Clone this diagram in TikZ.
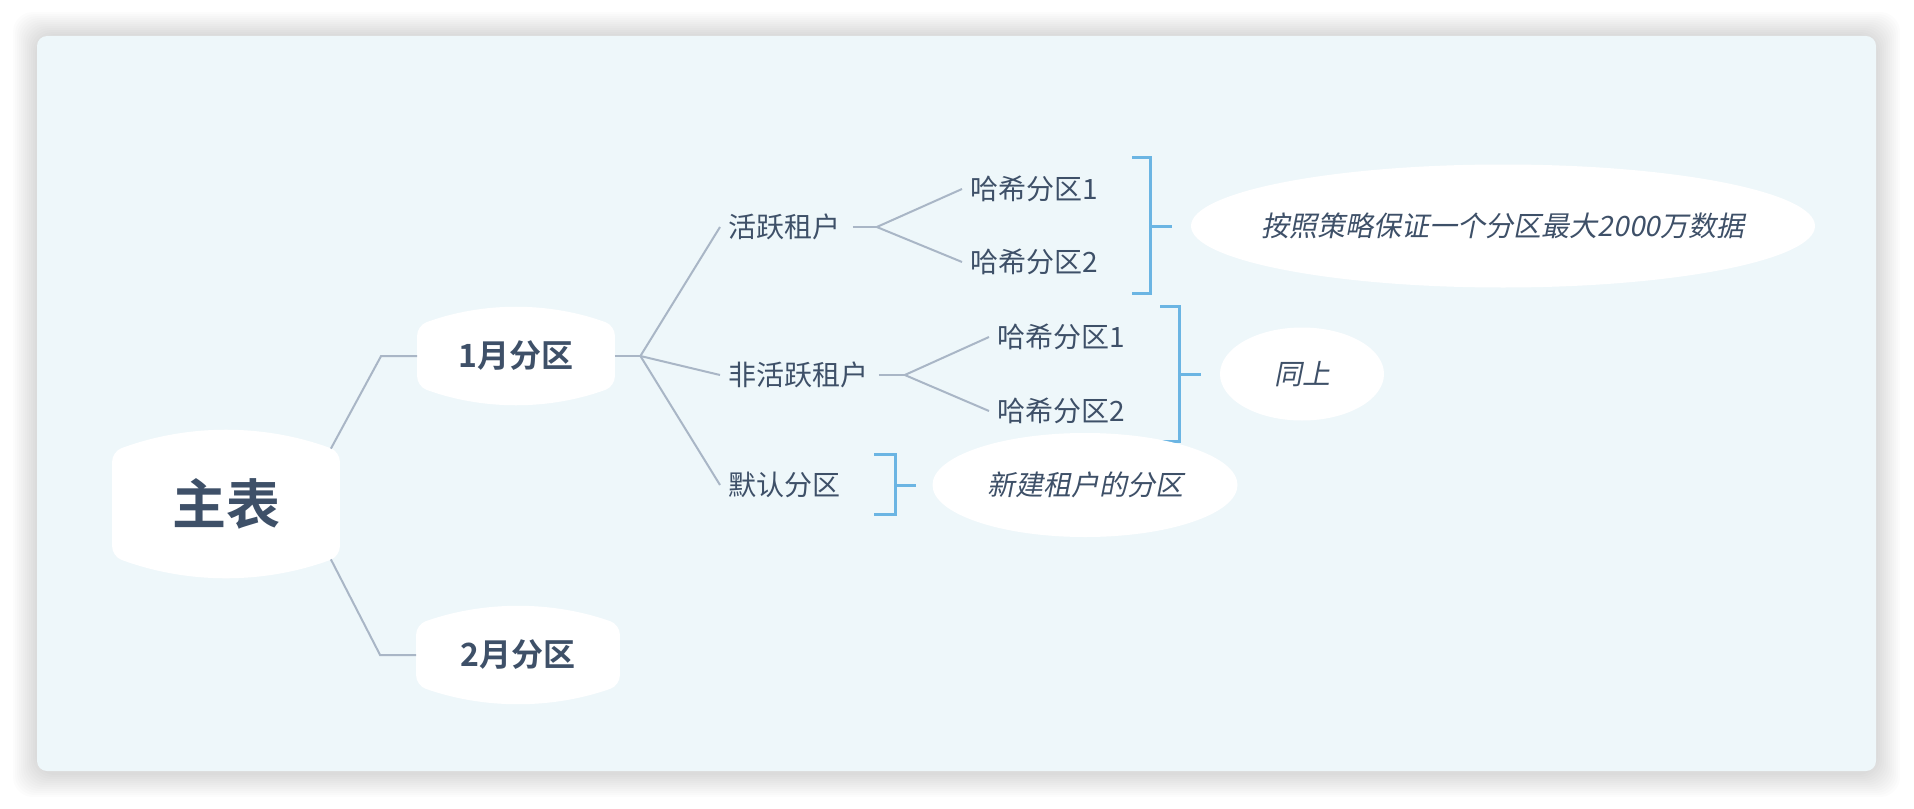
\documentclass[tikz,border=0pt]{standalone}
\usepackage{fontspec}
\setmainfont{Noto Sans CJK SC}[BoldFont={Noto Sans CJK SC Bold}]
\newfontfamily\slantfont{Noto Sans CJK SC}[FakeSlant=0.2]
\usetikzlibrary{shapes.geometric, positioning, calc, backgrounds}

\definecolor{ink}{HTML}{3E5068}
\definecolor{twigc}{HTML}{A9B6C6}
\definecolor{bracec}{HTML}{6BB5E3}
\definecolor{cardc}{HTML}{EEF7FA}

\pgfdeclarelayer{blobs}
\pgfsetlayers{background,blobs,main}

% white pad with bowed top and bottom edges behind a node
\newcommand\blob[2]{%
  \fill[white, rounded corners=5pt] (#1.north west) .. controls ($(#1.north west)!0.667!(#1.north)+(0pt,#2)$) and ($(#1.north east)!0.667!(#1.north)+(0pt,#2)$) .. (#1.north east)
    -- (#1.south east) .. controls ($(#1.south east)!0.667!(#1.south)-(0pt,#2)$) and ($(#1.south west)!0.667!(#1.south)-(0pt,#2)$) .. (#1.south west) -- cycle;}

\begin{document}
\begin{tikzpicture}[
    x=0.5pt, y=-0.5pt,
    every node/.style={text=ink, inner sep=4pt},
    root/.style={
        font=\bfseries\fontsize{27}{27}\selectfont,
        minimum width=113.5pt,
        minimum height=52pt
    },
    month/.style={
        font=\bfseries\fontsize{16}{16}\selectfont,
        minimum height=30pt
    },
    leaf/.style={
        font=\fontsize{14}{14}\selectfont,
        anchor=west
    },
    note/.style={
        ellipse,
        fill=white,
        inner sep=0pt,
        font=\slantfont\fontsize{14}{14}\selectfont
    },
    twig/.style={draw=twigc, line width=1pt},
    bracket/.style={draw=bracec, line width=1.5pt}
]

% --- card ---
\begin{scope}[on background layer]
\fill[white] (0,0) rectangle (1914,808);
\foreach \i in {1,...,12}
    \fill[black, opacity=0.012, rounded corners=10pt]
        (37-2*\i,36-2*\i) rectangle (1876+2*\i,773+2*\i);
\fill[cardc, rounded corners=5pt] (37,36) rectangle (1876,771);
\end{scope}

% --- root and months ---
\node (root) [root] at (226,504) {主表};
\node (m1) [month, minimum width=98.5pt] at (516,356) {1月分区};
\node (m2) [month, minimum width=101.5pt] at (518,655) {2月分区};

% --- tenants ---
\node (a1) [leaf] at (720,227) {活跃租户};
\node (a2) [leaf] at (720,375) {非活跃租户};
\node (a3) [leaf] at (720,485) {默认分区};

% --- hash partitions ---
\node (h1) [leaf] at (962,189) {哈希分区1};
\node (h2) [leaf] at (962,262) {哈希分区2};
\node (h3) [leaf] at (989,337) {哈希分区1};
\node (h4) [leaf] at (989,411) {哈希分区2};

% --- pads ---
\begin{pgfonlayer}{blobs}
\blob{root}{14pt}
\blob{m1}{12pt}
\blob{m2}{12pt}
\end{pgfonlayer}

% --- connectors ---
\coordinate (hub1) at ([xshift=12.75pt]m1.east);
\coordinate (hub2) at ([xshift=14pt]a1.east);
\coordinate (hub3) at ([xshift=14pt]a2.east);
\draw [twig] ([xshift=-4.5pt,yshift=1.5pt]root.north east) -- ([xshift=-18pt]m1.west) -- (m1.west);
\draw [twig] ([xshift=-4.5pt,yshift=-1.5pt]root.south east) -- ([xshift=-18pt]m2.west) -- (m2.west);
\draw [twig] (m1.east) -- (hub1);
\draw [twig] (hub1) -- (a1.west);
\draw [twig] (hub1) -- (a2.west);
\draw [twig] (hub1) -- (a3.west);
\draw [twig] ([xshift=2pt]a1.east) -- (hub2);
\draw [twig] (hub2) -- (h1.west);
\draw [twig] (hub2) -- (h2.west);
\draw [twig] ([xshift=1pt]a2.east) -- (hub3);
\draw [twig] (hub3) -- (h3.west);
\draw [twig] (hub3) -- (h4.west);

% --- brackets ---
\coordinate (k1) at (1150,226);
\coordinate (k2) at (1179,374);
\coordinate (k3) at (895,485);
\draw [bracket] (1132,157) -| (1150,293) -- (1132,293);
\draw [bracket] (k1) -- ++(22,0);
\draw [bracket] (1160,306) -| (1179,441) -- (1160,441);
\draw [bracket] (k2) -- ++(22,0);
\draw [bracket] (874,454) -| (895,514) -- (874,514);
\draw [bracket] (k3) -- ++(21,0);

% --- notes ---
\node (n1) [note, minimum width=312pt, minimum height=61.5pt] at (1503,226) {\makebox[0pt]{按照策略保证一个分区最大2000万数据}};
\node (n2) [note, minimum width=82pt, minimum height=46.5pt] at (1302,374) {\makebox[0pt]{同上}};
\node (n3) [note, minimum width=152.5pt, minimum height=52pt] at (1085,485) {\makebox[0pt]{新建租户的分区}};

\end{tikzpicture}
\end{document}
